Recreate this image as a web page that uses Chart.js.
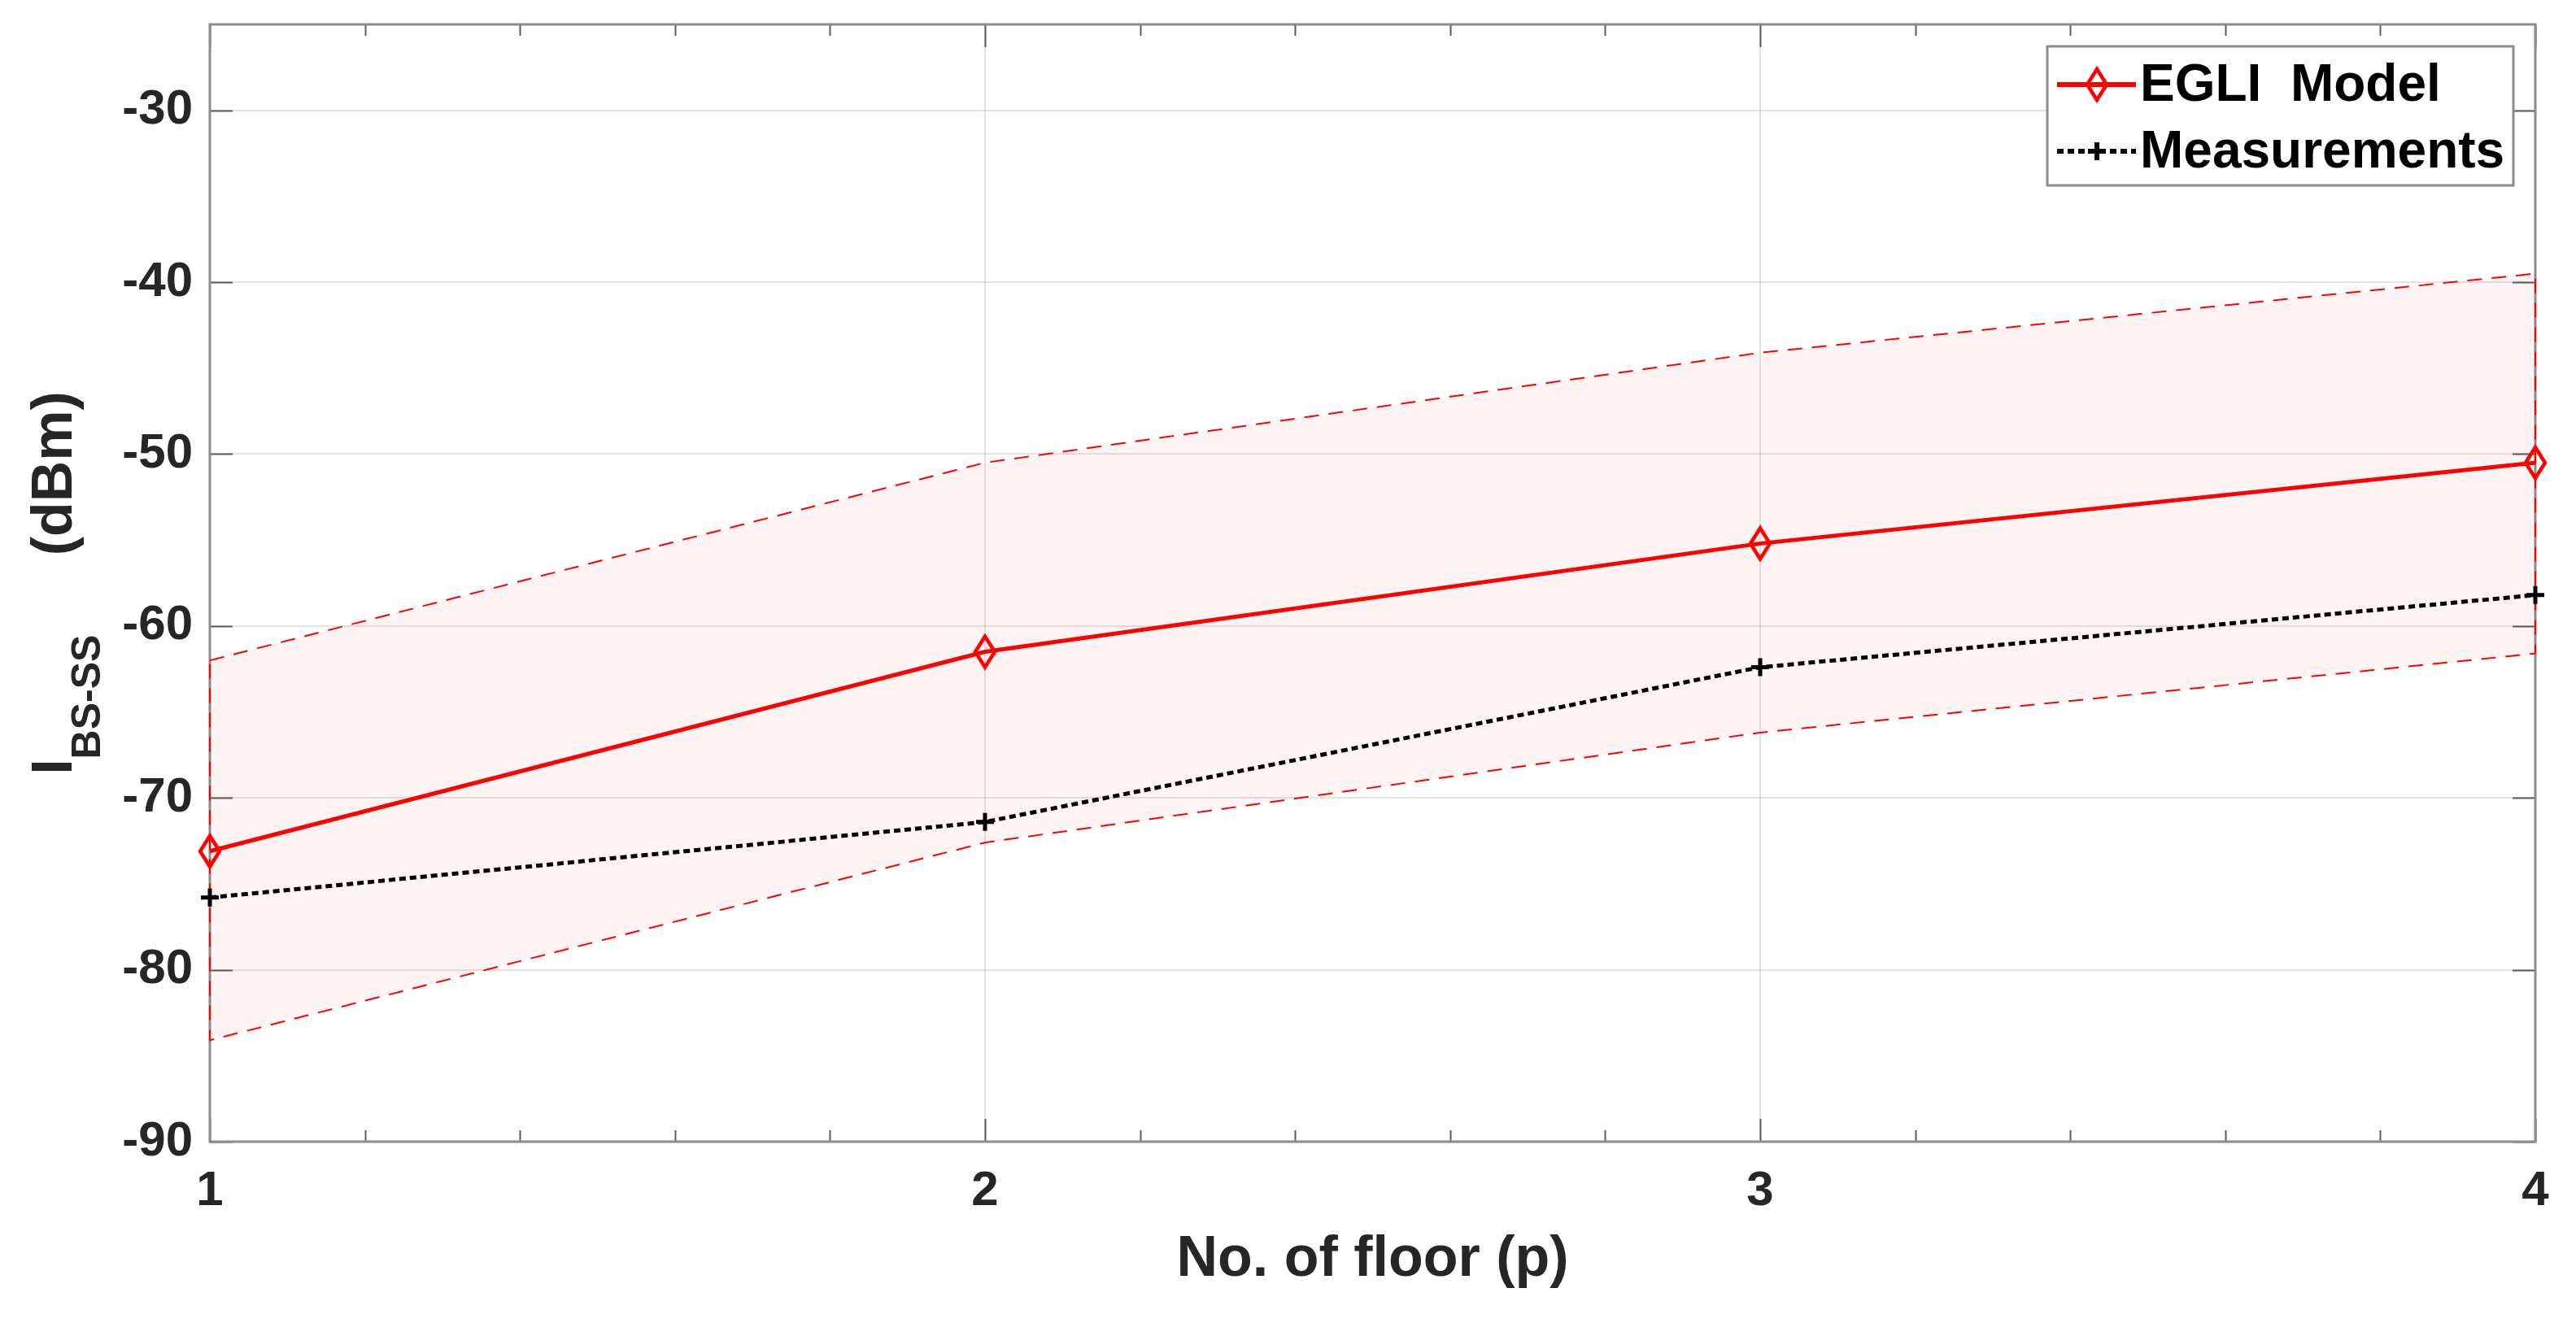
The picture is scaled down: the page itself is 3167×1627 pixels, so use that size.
<!DOCTYPE html>
<html>
<head>
<meta charset="utf-8">
<script src="https://cdn.jsdelivr.net/npm/chart.js@4.4.1/dist/chart.umd.min.js"></script>
<style>
  html, body { margin: 0; padding: 0; background: #fff; }
  #wrap { width: 3167px; height: 1627px; }
</style>
</head>
<body>
<div id="wrap"><canvas id="floorChart" width="3167" height="1627"></canvas></div>
<script>
// values (dBm)
const floors = [1, 2, 3, 4];
const egliModel = [-73.1, -61.5, -55.2, -50.5];
const measurements = [-75.8, -71.4, -62.4, -58.2];
const upperBound = [-62.0, -50.5, -44.1, -39.5];
const lowerBound = [-84.1, -72.6, -66.2, -61.6];

const yTicksMin = -90, yTicksMax = -25, yStep = 10;
const xMinorStep = 0.2;

const FONT = "'Liberation Sans', Arial, Helvetica, sans-serif";
const TXT = '#262626';

function pts(ys) {
  return floors.map(function(x, i) { return {x: x, y: ys[i]}; });
}

// closed outline of the shaded band: upper left->right, lower right->left
var bandOutline = pts(upperBound).concat(pts(lowerBound).reverse());
bandOutline.push({x: floors[0], y: upperBound[0]});

// open diamond marker (taller than wide, like matlab 'd')
function makeDiamond() {
  var c = document.createElement('canvas');
  c.width = 34; c.height = 46;
  var g = c.getContext('2d');
  g.strokeStyle = '#ff0000';
  g.lineWidth = 4.5;
  g.lineJoin = 'miter';
  g.beginPath();
  g.moveTo(17, 4); g.lineTo(29, 23); g.lineTo(17, 42); g.lineTo(5, 23);
  g.closePath();
  g.stroke();
  return c;
}
var diamond = makeDiamond();

// box + inward ticks, drawn under the data
const boxPlugin = {
  id: 'box',
  beforeDatasetsDraw(chart) {
    const ctx = chart.ctx, a = chart.chartArea;
    const xs = chart.scales.x, ys = chart.scales.y;
    ctx.save();
    ctx.strokeStyle = '#5a5a5a';
    ctx.lineWidth = 2;
    ctx.beginPath();
    for (let v = floors[0]; v <= floors[floors.length - 1] + 1e-9; v += xMinorStep) {
      const px = Math.round(xs.getPixelForValue(v)) + 0.5;
      const major = Math.abs(v - Math.round(v)) < 1e-6;
      const len = major ? 28 : 14;
      ctx.moveTo(px, a.bottom); ctx.lineTo(px, a.bottom - len);
      ctx.moveTo(px, a.top); ctx.lineTo(px, a.top + len);
    }
    ys.ticks.forEach(function(t) {
      const py = Math.round(ys.getPixelForValue(t.value)) + 0.5;
      ctx.moveTo(a.left, py); ctx.lineTo(a.left + 28, py);
      ctx.moveTo(a.right, py); ctx.lineTo(a.right - 28, py);
    });
    ctx.stroke();
    ctx.strokeStyle = '#8c8c8c';
    ctx.lineWidth = 3;
    ctx.strokeRect(a.left, a.top, a.right - a.left, a.bottom - a.top);
    ctx.restore();
  }
};

// legend box in the top right corner
const legendPlugin = {
  id: 'boxLegend',
  afterDatasetsDraw(chart) {
    const ctx = chart.ctx;
    const bx = 2517, by = 57, bw = 573, bh = 171;
    ctx.save();
    ctx.fillStyle = '#ffffff';
    ctx.fillRect(bx, by, bw, bh);
    ctx.strokeStyle = '#8c8c8c';
    ctx.lineWidth = 3;
    ctx.strokeRect(bx, by, bw, bh);

    const rows = [
      {ds: chart.data.datasets[0], y: by + 47},
      {ds: chart.data.datasets[1], y: by + 129}
    ];
    rows.forEach(function(r) {
      const ds = r.ds;
      ctx.strokeStyle = ds.borderColor;
      ctx.lineWidth = ds.borderWidth + 1;
      ctx.setLineDash(ds.borderDash || []);
      ctx.beginPath();
      ctx.moveTo(bx + 12, r.y); ctx.lineTo(bx + 109, r.y);
      ctx.stroke();
      ctx.setLineDash([]);
      Chart.helpers.drawPoint(ctx, {
        pointStyle: ds.pointStyle, radius: ds.pointRadius, rotation: 0,
        borderWidth: ds.pointBorderWidth
      }, bx + 61, r.y);
      ctx.fillStyle = '#000';
      ctx.font = 'bold 64px ' + FONT;
      ctx.textBaseline = 'middle';
      ctx.textAlign = 'left';
      ctx.fillText(ds.label, bx + 114, r.y + 2);
    });
    ctx.restore();
  }
};

// y label with subscript: I_BS-SS   (dBm)
const yTitlePlugin = {
  id: 'yTitle',
  afterDraw(chart) {
    const ctx = chart.ctx, a = chart.chartArea;
    const big = 'bold 70px ' + FONT, small = 'bold 50px ' + FONT;
    ctx.save();
    ctx.fillStyle = TXT;
    ctx.textBaseline = 'alphabetic';
    ctx.textAlign = 'left';
    ctx.font = big;
    const wI = ctx.measureText('I').width;
    const wTail = ctx.measureText('     (dBm)').width;
    ctx.font = small;
    const wSub = ctx.measureText('BS-SS').width;
    const total = wI + wSub + wTail;
    ctx.translate(88, (a.top + a.bottom) / 2);
    ctx.rotate(-Math.PI / 2);
    let x = -total / 2;
    ctx.font = big;
    ctx.fillText('I', x, 0); x += wI;
    ctx.font = small;
    ctx.fillText('BS-SS', x, 35); x += wSub;
    ctx.font = big;
    ctx.fillText('     (dBm)', x, 0);
    ctx.restore();
  }
};

var chart = new Chart(document.getElementById('floorChart'), {
  type: 'line',
  data: {
    datasets: [
      {
        label: 'EGLI  Model',
        data: pts(egliModel),
        borderColor: '#ff0000',
        borderWidth: 5,
        pointStyle: diamond,
        pointRadius: 12,
        pointBorderWidth: 4.5,
        pointBorderColor: '#ff0000',
        fill: false,
        clip: false
      },
      {
        label: 'Measurements',
        data: pts(measurements),
        borderColor: '#000000',
        borderWidth: 5,
        borderDash: [8, 5],
        pointStyle: 'cross',
        pointRadius: 11,
        pointBorderWidth: 5,
        pointBorderColor: '#000000',
        fill: false,
        clip: false
      },
      {
        label: 'band',
        data: bandOutline,
        borderColor: '#ff0000',
        borderWidth: 2,
        borderDash: [18, 12],
        backgroundColor: 'rgba(255, 0, 0, 0.045)',
        pointRadius: 0,
        fill: 'shape',
        clip: false
      }
    ]
  },
  options: {
    responsive: false,
    animation: false,
    devicePixelRatio: 1,
    layout: { padding: { left: 0, right: 50, top: 30, bottom: 0 } },
    scales: {
      x: {
        type: 'linear',
        min: 1,
        max: 4,
        afterFit: function(s) { s.height = 223; s.paddingLeft = 0; s.paddingRight = 0; },
        border: { display: false },
        grid: { color: 'rgba(38,38,38,0.13)', lineWidth: 2, drawTicks: false },
        ticks: {
          stepSize: 1,
          padding: 25,
          color: TXT,
          font: { family: FONT, size: 60, weight: 'bold' }
        },
        title: {
          display: true,
          text: 'No. of floor (p)',
          color: TXT,
          font: { family: FONT, size: 70, weight: 'bold' },
          padding: { top: 0, bottom: 35 }
        }
      },
      y: {
        min: yTicksMin,
        max: yTicksMax,
        afterFit: function(s) { s.width = 258; s.paddingTop = 0; s.paddingBottom = 0; },
        border: { display: false },
        grid: { color: 'rgba(38,38,38,0.13)', lineWidth: 2, drawTicks: false },
        ticks: {
          stepSize: yStep,
          includeBounds: false,
          padding: 21,
          color: TXT,
          font: { family: FONT, size: 60, weight: 'bold' }
        }
      }
    },
    plugins: {
      legend: { display: false },
      tooltip: { enabled: false }
    }
  },
  plugins: [boxPlugin, legendPlugin, yTitlePlugin]
});
</script>
</body>
</html>
